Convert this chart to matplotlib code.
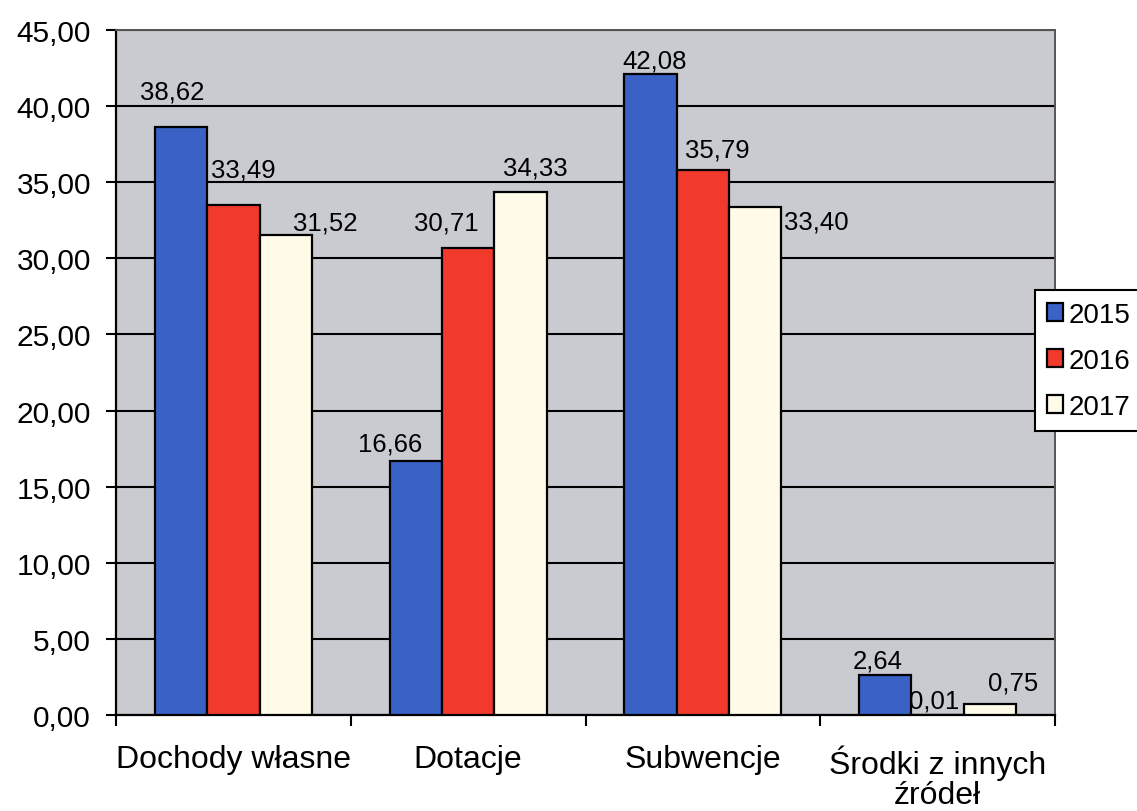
import matplotlib
matplotlib.use("Agg")
import matplotlib.pyplot as plt
import numpy as np

categories = ["Dochody własne", "Dotacje", "Subwencje", "Środki z innych\nźródeł"]
years = ["2015", "2016", "2017"]
v2015 = [38.62, 16.66, 42.08, 2.64]
v2016 = [33.49, 30.71, 35.79, 0.01]
v2017 = [31.52, 34.33, 33.40, 0.75]
yticks = [0, 5, 10, 15, 20, 25, 30, 35, 40, 45]

colors = ["#3a62c6", "#f23a2c", "#fffbe8"]
# label offsets in pixels (dx, dy) relative to bar top centre
offsets = [
    [(-9, 36), (-26, 18), (4, 14), (-8, 14)],
    [(10, 36), (-22, 25), (14, 21), (-3, 14)],
    [(40, 13), (15, 25), (61, -15), (23, 21)],
]

plt.rcParams['font.family'] = ['Liberation Sans', 'DejaVu Sans']

fig = plt.figure(figsize=(11.37, 8.12), dpi=100)
ax = fig.add_axes([116/1137, 96/812, (1055-116)/1137, (716-31)/812])
ax.set_facecolor("#c9cbd1")

x = np.arange(len(categories))
w = 0.223
series = [v2015, v2016, v2017]
for i, (vals, c, yr) in enumerate(zip(series, colors, years)):
    xs = x + (i - 1) * w
    ax.bar(xs, vals, width=w, color=c, edgecolor="black", linewidth=1.6,
           label=yr, zorder=3)
    for j, v in enumerate(vals):
        dx, dy = offsets[i][j]
        ax.annotate(f"{v:.2f}".replace(".", ","), (xs[j], v),
                    xytext=(dx, dy), textcoords="offset pixels",
                    ha="center", va="center", fontsize=18.5, zorder=4)

ax.set_xlim(-0.5, len(categories) - 0.5)
ax.set_ylim(0, 45)
ax.set_yticks(yticks)
ax.set_yticklabels([f"{t:.2f}".replace(".", ",") for t in yticks], fontsize=21.5)
ax.yaxis.grid(True, color="black", linewidth=1.5, zorder=1)
ax.set_axisbelow(True)

ax.set_xticks(np.arange(len(categories) + 1) - 0.5)
ax.set_xticklabels([])
ax.set_xticks(x, minor=True)
ax.set_xticklabels(categories, minor=True, fontsize=23, linespacing=1.0)
ax.tick_params(axis="x", which="minor", length=0, pad=21)
ax.tick_params(axis="x", which="major", length=8, width=1.5, direction="out")
ax.tick_params(axis="y", length=7, width=1.5, pad=11)

for s in ["left", "bottom"]:
    ax.spines[s].set_color("black")
    ax.spines[s].set_linewidth(1.6)
for s in ["top", "right"]:
    ax.spines[s].set_color("#555555")
    ax.spines[s].set_linewidth(1.4)

leg = fig.legend(loc="upper left", bbox_to_anchor=(1035/1137, 1 - 291/812),
                 fontsize=20, frameon=True, fancybox=False, edgecolor="black",
                 facecolor="white", framealpha=1.0,
                 handlelength=0.6, handleheight=0.6, handletextpad=0.2,
                 labelspacing=0.72, borderpad=0.42, borderaxespad=0)
leg.get_frame().set_linewidth(1.5)

fig.savefig("out.png", dpi=100, facecolor="white")
